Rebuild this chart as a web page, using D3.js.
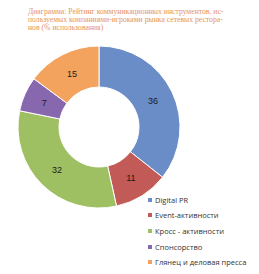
<!DOCTYPE html>
<html>
<head>
<meta charset="utf-8">
<script src="https://cdn.jsdelivr.net/npm/d3@7"></script>
<style>
  body { margin: 0; background: #fff; }
</style>
</head>
<body>
<div id="chart"></div>
<script>
// chart data
var titleLines = [
  'Диаграмма: Рейтинг коммуникационных инструментов, ис-',
  'пользуемых компаниями-игроками рынка сетевых рестора-',
  'нов (% использования)'
];
var categories = ['Digital PR', 'Event-активности', 'Кросс - активности', 'Спонсорство', 'Глянец и деловая пресса'];
var values = [36, 11, 32, 7, 15];
var fillcolors = ['#6a8cc7', '#c25a57', '#9ec062', '#8767ae', '#f4a35e'];

var width = 259, height = 274;
var cx = 99, cy = 127, outerR = 81, innerR = 40;

var svg = d3.select('#chart').append('svg')
  .attr('width', width)
  .attr('height', height);

// title
svg.append('g').selectAll('text')
  .data(titleLines)
  .enter().append('text')
  .attr('x', 28)
  .attr('y', function(d, i) { return 14 + i * 8; })
  .style('font-family', '"Liberation Serif", "DejaVu Serif", serif')
  .style('font-size', '7.7px')
  .style('fill', '#e6945a')
  .text(function(d) { return d; });

var pie = d3.pie().sort(null).value(function(d) { return d; });
var arc = d3.arc().innerRadius(innerR).outerRadius(outerR);
var labelArc = d3.arc().innerRadius(60).outerRadius(60);

var g = svg.append('g').attr('transform', 'translate(' + cx + ',' + cy + ')');
var arcs = pie(values);

g.selectAll('path')
  .data(arcs)
  .enter().append('path')
  .attr('d', arc)
  .style('fill', function(d, i) { return fillcolors[i]; })
  .style('stroke', '#fff')
  .style('stroke-width', 1);

g.selectAll('text')
  .data(arcs)
  .enter().append('text')
  .attr('transform', function(d) { return 'translate(' + labelArc.centroid(d) + ')'; })
  .attr('text-anchor', 'middle')
  .attr('dy', '0.35em')
  .style('font-family', '"Liberation Sans", Arial, sans-serif')
  .style('font-size', '9px')
  .style('fill', '#1a1a1a')
  .text(function(d) { return d.data; });

// legend
var legendY = [200, 215, 231, 247, 262];
var legend = svg.append('g');
for (var i = 0; i < categories.length; i++) {
  legend.append('rect')
    .attr('x', 148)
    .attr('y', legendY[i] - 2)
    .attr('width', 4)
    .attr('height', 4)
    .style('fill', fillcolors[i]);
  legend.append('text')
    .attr('x', 155)
    .attr('y', legendY[i])
    .attr('dy', '0.35em')
    .style('font-family', '"Open Sans", "DejaVu Sans", sans-serif')
    .style('font-size', '7.5px')
    .style('fill', '#333')
    .text(categories[i]);
}
</script>
</body>
</html>
